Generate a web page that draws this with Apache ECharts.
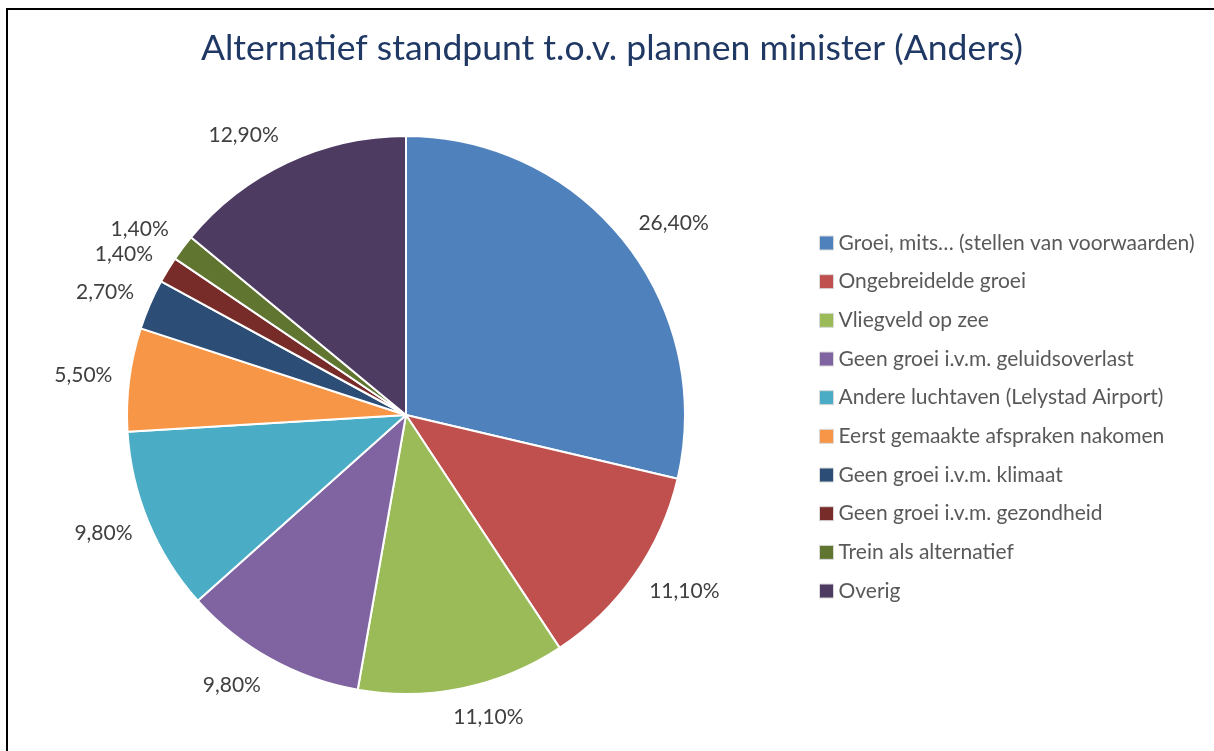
<!DOCTYPE html>
<html>
<head>
<meta charset="utf-8">
<title>Alternatief standpunt</title>
<script src="https://cdn.jsdelivr.net/npm/echarts@6/dist/echarts.min.js"></script>
<style>
  html, body { margin: 0; padding: 0; background: #fff; }
  #chart { width: 1214px; height: 751px; }
</style>
</head>
<body>
<div id="chart"></div>
<script>
// categories and shares (percent)
var categories = [
	'Groei, mits… (stellen van voorwaarden)',
	'Ongebreidelde groei',
	'Vliegveld op zee',
	'Geen groei i.v.m. geluidsoverlast',
	'Andere luchtaven (Lelystad Airport)',
	'Eerst gemaakte afspraken nakomen',
	'Geen groei i.v.m. klimaat',
	'Geen groei i.v.m. gezondheid',
	'Trein als alternatief',
	'Overig'
];
var shares = [26.4, 11.1, 11.1, 9.8, 9.8, 5.5, 2.7, 1.4, 1.4, 12.9];

var colors = ['#4F81BD', '#C0504D', '#9BBB59', '#8064A2', '#4BACC6',
	'#F79646', '#2C4D75', '#772C2A', '#5F7530', '#4D3B62'];

var CX = 406, CY = 415, R = 279, LABEL_GAP = 294;

var pieData = [];
for (var i = 0; i < categories.length; i++) {
	pieData.push({ name: categories[i], value: shares[i] });
}

var myChart = echarts.init(document.getElementById('chart'));

var option = {
	backgroundColor: '#fff',
	color: colors,
	animation: false,
	title: {
		text: 'Alternatief standpunt t.o.v. plannen minister (Anders)',
		left: 201,
		top: 31,
		padding: 0,
		textStyle: {
			fontFamily: 'Lato',
			fontSize: 35.5,
			fontWeight: 'normal',
			color: '#1F3864'
		}
	},
	legend: {
		orient: 'vertical',
		left: 814,
		top: 227,
		itemWidth: 14,
		itemHeight: 14,
		itemGap: 16.67,
		icon: 'rect',
		itemStyle: { borderColor: '#d9d9d9', borderWidth: 1 },
		textStyle: {
			fontFamily: 'Lato',
			fontSize: 21,
			lineHeight: 22,
			color: '#595959'
		},
		data: categories
	},
	graphic: [{
		type: 'rect',
		shape: { x: 7, y: 9, width: 1400, height: 1000 },
		style: { fill: 'none', stroke: '#000', lineWidth: 2 },
		silent: true
	}],
	series: [{
		type: 'pie',
		center: [CX, CY],
		radius: R,
		startAngle: 90,
		clockwise: true,
		avoidLabelOverlap: false,
		itemStyle: { borderColor: '#fff', borderWidth: 2 },
		label: {
			show: true,
			position: 'outside',
			fontFamily: 'Lato',
			fontSize: 21,
			color: '#404040',
			formatter: function (p) {
				return p.value.toFixed(2).replace('.', ',') + '%';
			}
		},
		labelLine: {
			show: true,
			length: 10,
			length2: 5,
			lineStyle: { width: 0, opacity: 0 }
		},
		// outside-end placement: box pushed off the ray like the office chart does
		labelLayout: function (p) {
			var pts = p.labelLinePoints;
			if (!pts) {
				return {};
			}
			var dx = pts[0][0] - CX, dy = pts[0][1] - CY;
			var len = Math.sqrt(dx * dx + dy * dy);
			var ux = dx / len, uy = dy / len;
			var hw = p.labelRect.width / 2 + 2;
			var sx = Math.max(-1, Math.min(1, ux * 3));
			return {
				x: CX + ux * LABEL_GAP + hw * sx,
				y: CY + uy * LABEL_GAP + 15 * uy,
				align: 'center',
				verticalAlign: 'middle'
			};
		},
		emphasis: { disabled: true },
		data: pieData
	}]
};

myChart.setOption(option);
</script>
</body>
</html>
